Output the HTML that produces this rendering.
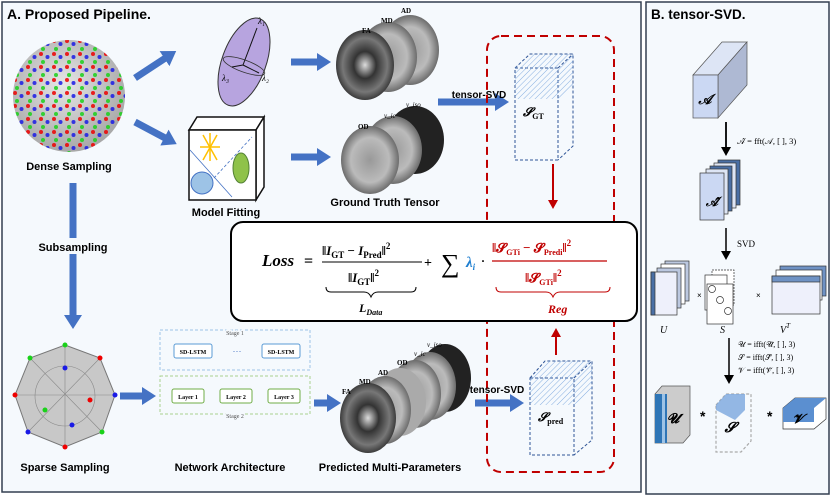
<!DOCTYPE html>
<html><head><meta charset="utf-8"><style>
body{margin:0;background:#fff}
svg{display:block;font-family:"Liberation Sans",sans-serif}
.serif{font-family:"Liberation Serif",serif}
</style></head><body>
<svg width="831" height="501" viewBox="0 0 831 501" xmlns="http://www.w3.org/2000/svg">
<defs>
<marker id="bh" markerWidth="16" markerHeight="18" refX="3" refY="9" orient="auto" markerUnits="userSpaceOnUse"><path d="M0,0 L14,9 L0,18z" fill="#4472c4"/></marker>
<marker id="kh" markerWidth="10" markerHeight="10" refX="3" refY="5" orient="auto" markerUnits="userSpaceOnUse"><path d="M0,0 L9,5 L0,10z" fill="#000"/></marker>
<marker id="rh" markerWidth="10" markerHeight="10" refX="3" refY="5" orient="auto" markerUnits="userSpaceOnUse"><path d="M0,0 L9,5 L0,10z" fill="#c00000"/></marker>
<radialGradient id="sph" cx="0.45" cy="0.4" r="0.6"><stop offset="0" stop-color="#e6e6e6"/><stop offset="1" stop-color="#a8a8a8"/></radialGradient>
<radialGradient id="br" cx="0.5" cy="0.5" r="0.55"><stop offset="0" stop-color="#ddd"/><stop offset="0.35" stop-color="#333"/><stop offset="0.7" stop-color="#777"/><stop offset="1" stop-color="#222"/></radialGradient>
<radialGradient id="br2" cx="0.5" cy="0.5" r="0.55"><stop offset="0" stop-color="#999"/><stop offset="0.6" stop-color="#bbb"/><stop offset="1" stop-color="#555"/></radialGradient>
<pattern id="dots" width="13" height="13" patternUnits="userSpaceOnUse"><circle cx="2" cy="2" r="2" fill="#e00"/><circle cx="8.5" cy="5" r="2" fill="#1a1ae6"/><circle cx="4" cy="10" r="2" fill="#1ad11a"/></pattern>
<pattern id="hatch" width="4" height="4" patternUnits="userSpaceOnUse" patternTransform="rotate(45)"><line x1="0" y1="0" x2="0" y2="4" stroke="#7aa6dd" stroke-width="1"/></pattern>
</defs>
<rect width="831" height="501" fill="#fff"/>
<rect x="2" y="2" width="639" height="490" fill="#f5f9fd" stroke="#333f50" stroke-width="1.5"/>
<rect x="646" y="2" width="183" height="492" fill="#f5f9fd" stroke="#333f50" stroke-width="1.5"/>
<text x="7" y="19" font-size="14" font-weight="bold">A. Proposed Pipeline.</text>
<text x="651" y="19" font-size="13.5" font-weight="bold">B. tensor-SVD.</text>

<!-- dense sphere -->
<circle cx="69" cy="96" r="56" fill="url(#sph)"/>
<circle cx="69" cy="96" r="56" fill="url(#dots)" opacity="0.85"/>
<text x="69" y="170" font-size="11" font-weight="bold" text-anchor="middle">Dense Sampling</text>
<!-- blue arrows -->
<g stroke="#4472c4" stroke-width="7" fill="none" marker-end="url(#bh)">
<line x1="135" y1="78" x2="167" y2="57"/>
<line x1="135" y1="122" x2="167" y2="139"/>
<line x1="291" y1="62" x2="320" y2="62"/>
<line x1="291" y1="157" x2="320" y2="157"/>
<line x1="73" y1="183" x2="73" y2="318"/>
<line x1="120" y1="396" x2="145" y2="396"/>
<line x1="314" y1="403" x2="330" y2="403"/>
<line x1="438" y1="102" x2="498" y2="102"/>
<line x1="475" y1="403" x2="513" y2="403"/>
</g>
<rect x="20" y="238" width="106" height="16" fill="#f5f9fd"/>
<text x="73" y="251" font-size="11" font-weight="bold" text-anchor="middle">Subsampling</text>
<!-- ellipsoid -->
<ellipse cx="244" cy="62" rx="22" ry="46" transform="rotate(20 244 62)" fill="#b7a4df" stroke="#333" stroke-width="1"/>
<ellipse cx="244" cy="66" rx="22" ry="6" transform="rotate(20 244 66)" fill="none" stroke="#333" stroke-width="0.8"/>
<g stroke="#111" stroke-width="1"><line x1="243" y1="65" x2="257" y2="28"/><line x1="243" y1="65" x2="232" y2="67"/><line x1="243" y1="65" x2="259" y2="73"/></g>
<text x="258" y="24" class="serif" font-size="9" font-style="italic">λ₁</text>
<text x="262" y="81" class="serif" font-size="9" font-style="italic">λ₂</text>
<text x="222" y="81" class="serif" font-size="9" font-style="italic">λ₃</text>
<!-- cube model fitting -->
<g stroke="#111" stroke-width="1.5" fill="#fff">
<path d="M189,130 L197,117 L264,117 L256,130z"/>
<path d="M256,130 L264,117 L264,187 L256,200z"/>
<rect x="189" y="130" width="67" height="70"/>
</g>
<line x1="190" y1="150" x2="232" y2="197" stroke="#4472c4" stroke-width="0.8"/>
<line x1="214" y1="178" x2="252" y2="137" stroke="#4472c4" stroke-width="0.8" stroke-dasharray="3,2"/>
<g stroke="#ffc000" stroke-width="1.5"><line x1="203" y1="135" x2="217" y2="160"/><line x1="217" y1="135" x2="203" y2="160"/><line x1="200" y1="147" x2="220" y2="147"/><line x1="210" y1="133" x2="210" y2="161"/></g>
<circle cx="202" cy="183" r="11" fill="#9dc3e6" stroke="#4472c4"/>
<ellipse cx="241" cy="168" rx="8" ry="15" fill="#8fc24a" stroke="#538135"/>
<text x="226" y="216" font-size="11" font-weight="bold" text-anchor="middle">Model Fitting</text>
<!-- GT brains -->
<ellipse cx="410" cy="50" rx="29" ry="35" fill="url(#br2)"/>
<ellipse cx="388" cy="57" rx="29" ry="35" fill="url(#br2)"/>
<ellipse cx="365" cy="65" rx="29" ry="35" fill="url(#br)"/>
<text x="401" y="13" class="serif" font-size="7" font-weight="bold">AD</text>
<text x="381" y="23" class="serif" font-size="7" font-weight="bold">MD</text>
<text x="362" y="33" class="serif" font-size="7" font-weight="bold">FA</text>
<ellipse cx="415" cy="140" rx="29" ry="34" fill="#222"/>
<ellipse cx="393" cy="150" rx="29" ry="34" fill="url(#br2)"/>
<ellipse cx="370" cy="160" rx="29" ry="34" fill="url(#br2)"/>
<text x="406" y="107" class="serif" font-size="7" font-style="italic">v_iso</text>
<text x="384" y="118" class="serif" font-size="7" font-style="italic">v_ic</text>
<text x="358" y="129" class="serif" font-size="7" font-weight="bold">OD</text>
<text x="385" y="206" font-size="11" font-weight="bold" text-anchor="middle">Ground Truth Tensor</text>
<text x="479" y="98" font-size="10" font-weight="bold" text-anchor="middle">tensor-SVD</text>
<!-- red dashed box -->
<rect x="487" y="36" width="127" height="436" rx="14" fill="none" stroke="#c00000" stroke-width="2" stroke-dasharray="8,5"/>
<!-- S_GT cube -->
<g fill="none" stroke="#2f5597" stroke-width="1" stroke-dasharray="3,2">
<rect x="515" y="68" width="43" height="92"/><path d="M515,68 L530,54 L573,54 L573,146 L558,160 M558,68 L573,54"/>
</g>
<path d="M515,68 L530,54 L573,54 L573,85 L558,99 L515,99z" fill="url(#hatch)" opacity="0.9"/>
<text x="523" y="116" class="serif" font-size="12" font-weight="bold" font-style="italic">𝓢<tspan font-size="8" font-style="normal" dy="3">GT</tspan></text>
<line x1="553" y1="164" x2="553" y2="203" stroke="#c00000" stroke-width="2" marker-end="url(#rh)"/>
<line x1="556" y1="355" x2="556" y2="334" stroke="#c00000" stroke-width="2" marker-end="url(#rh)"/>
<!-- Loss box -->
<rect x="231" y="222" width="406" height="99" rx="12" fill="#fff" stroke="#000" stroke-width="2"/>
<g class="serif" font-weight="bold">
<text x="262" y="266" font-size="17" font-style="italic">Loss</text>
<text x="304" y="266" font-size="16">=</text>
<text x="322" y="255" font-size="13">‖<tspan font-style="italic">I</tspan><tspan font-size="9" dy="3">GT</tspan><tspan dy="-3"> − </tspan><tspan font-style="italic">I</tspan><tspan font-size="9" dy="3">Pred</tspan><tspan dy="-3">‖</tspan><tspan font-size="9" dy="-6">2</tspan></text>
<line x1="322" y1="262" x2="422" y2="262" stroke="#000" stroke-width="1"/>
<text x="348" y="282" font-size="13">‖<tspan font-style="italic">I</tspan><tspan font-size="9" dy="3">GT</tspan><tspan dy="-3">‖</tspan><tspan font-size="9" dy="-6">2</tspan></text>
<path d="M326,287 q0,5 5,5 h33 q5,0 7,5 q2,-5 7,-5 h33 q5,0 5,-5" fill="none" stroke="#000" stroke-width="1"/>
<text x="359" y="312" font-size="12" font-style="italic">L<tspan font-size="8" dy="3">Data</tspan></text>
<text x="424" y="267" font-size="14">+</text>
<text x="441" y="272" font-size="26" font-weight="normal">∑</text>
<text x="466" y="267" font-size="15" font-style="italic" fill="#1f7fd0">λ<tspan font-size="9" dy="3">i</tspan></text>
<text x="481" y="265" font-size="12">·</text>
<g fill="#c00000">
<text x="492" y="252" font-size="13">‖𝓢<tspan font-size="8" dy="3">GTi</tspan><tspan dy="-3"> − 𝓢</tspan><tspan font-size="8" dy="3">Predi</tspan><tspan dy="-3">‖</tspan><tspan font-size="9" dy="-6">2</tspan></text>
<text x="525" y="282" font-size="13">‖𝓢<tspan font-size="8" dy="3">GTi</tspan><tspan dy="-3">‖</tspan><tspan font-size="9" dy="-6">2</tspan></text>
<text x="548" y="313" font-size="12" font-style="italic">Reg</text>
</g>
<line x1="492" y1="261" x2="607" y2="261" stroke="#c00000" stroke-width="1.2"/>
<path d="M496,287 q0,5 5,5 h45 q5,0 7,5 q2,-5 7,-5 h45 q5,0 5,-5" fill="none" stroke="#c00000" stroke-width="1"/>
</g>
<!-- sparse sphere -->
<polygon points="65,345 100,358 115,395 102,432 65,447 28,432 15,395 30,358" fill="#c8c8c8" stroke="#777"/>
<g stroke="#888" stroke-width="0.6"><line x1="65" y1="345" x2="65" y2="447"/><line x1="15" y1="395" x2="115" y2="395"/><line x1="30" y1="358" x2="102" y2="432"/><line x1="100" y1="358" x2="28" y2="432"/><circle cx="65" cy="396" r="30" fill="none"/></g>
<g><circle cx="65" cy="345" r="2.5" fill="#1ad11a"/><circle cx="100" cy="358" r="2.5" fill="#e00"/><circle cx="115" cy="395" r="2.5" fill="#1a1ae6"/><circle cx="102" cy="432" r="2.5" fill="#1ad11a"/><circle cx="65" cy="447" r="2.5" fill="#e00"/><circle cx="28" cy="432" r="2.5" fill="#1a1ae6"/><circle cx="15" cy="395" r="2.5" fill="#e00"/><circle cx="30" cy="358" r="2.5" fill="#1ad11a"/><circle cx="65" cy="368" r="2.5" fill="#1a1ae6"/><circle cx="90" cy="400" r="2.5" fill="#e00"/><circle cx="45" cy="410" r="2.5" fill="#1ad11a"/><circle cx="72" cy="425" r="2.5" fill="#1a1ae6"/></g>
<text x="65" y="471" font-size="11" font-weight="bold" text-anchor="middle">Sparse Sampling</text>
<!-- network -->
<rect x="160" y="330" width="150" height="40" fill="none" stroke="#9dc3e6" stroke-dasharray="3,2"/>
<rect x="160" y="376" width="150" height="38" fill="none" stroke="#a9d18e" stroke-dasharray="3,2"/>
<text x="235" y="335" class="serif" font-size="6" text-anchor="middle" fill="#555" style="paint-order:stroke" stroke="#f5f9fd" stroke-width="3">Stage 1</text>
<text x="235" y="418" class="serif" font-size="6" text-anchor="middle" fill="#555" style="paint-order:stroke" stroke="#f5f9fd" stroke-width="3">Stage 2</text>
<rect x="174" y="344" width="38" height="14" rx="2" fill="#fff" stroke="#5b9bd5"/>
<rect x="262" y="344" width="38" height="14" rx="2" fill="#fff" stroke="#5b9bd5"/>
<text x="193" y="354" class="serif" font-size="6" font-weight="bold" text-anchor="middle">SD-LSTM</text>
<text x="281" y="354" class="serif" font-size="6" font-weight="bold" text-anchor="middle">SD-LSTM</text>
<text x="237" y="354" font-size="9" fill="#4472c4" text-anchor="middle">···</text>
<rect x="172" y="389" width="32" height="14" rx="2" fill="#fff" stroke="#70ad47"/>
<rect x="220" y="389" width="32" height="14" rx="2" fill="#fff" stroke="#70ad47"/>
<rect x="268" y="389" width="32" height="14" rx="2" fill="#fff" stroke="#70ad47"/>
<text x="188" y="399" class="serif" font-size="6" font-weight="bold" text-anchor="middle">Layer 1</text>
<text x="236" y="399" class="serif" font-size="6" font-weight="bold" text-anchor="middle">Layer 2</text>
<text x="284" y="399" class="serif" font-size="6" font-weight="bold" text-anchor="middle">Layer 3</text>
<text x="230" y="471" font-size="11" font-weight="bold" text-anchor="middle">Network Architecture</text>
<!-- predicted brains -->
<ellipse cx="445" cy="378" rx="26" ry="34" fill="#222"/>
<ellipse cx="430" cy="386" rx="26" ry="34" fill="url(#br2)"/>
<ellipse cx="415" cy="394" rx="26" ry="34" fill="url(#br2)"/>
<ellipse cx="400" cy="402" rx="26" ry="34" fill="#aaa"/>
<ellipse cx="385" cy="410" rx="26" ry="34" fill="url(#br2)"/>
<ellipse cx="368" cy="418" rx="28" ry="35" fill="url(#br)"/>
<text x="427" y="347" class="serif" font-size="7" font-style="italic">v_iso</text>
<text x="414" y="356" class="serif" font-size="7" font-style="italic">v_ic</text>
<text x="397" y="365" class="serif" font-size="7" font-weight="bold">OD</text>
<text x="378" y="375" class="serif" font-size="7" font-weight="bold">AD</text>
<text x="359" y="384" class="serif" font-size="7" font-weight="bold">MD</text>
<text x="342" y="394" class="serif" font-size="7" font-weight="bold">FA</text>
<text x="390" y="471" font-size="11" font-weight="bold" text-anchor="middle">Predicted Multi-Parameters</text>
<text x="497" y="393" font-size="10" font-weight="bold" text-anchor="middle">tensor-SVD</text>
<!-- S_pred cube -->
<g fill="none" stroke="#2f5597" stroke-width="1" stroke-dasharray="3,2">
<rect x="530" y="378" width="44" height="77"/><path d="M530,378 L545,361 L592,361 L592,440 L574,455 M574,378 L592,361"/>
</g>
<path d="M530,378 L545,361 L592,361 L592,390 L574,405 L530,405z" fill="url(#hatch)" opacity="0.9"/>
<text x="538" y="421" class="serif" font-size="12" font-weight="bold" font-style="italic">𝓢<tspan font-size="8" font-style="normal" dy="3">pred</tspan></text>

<!-- Panel B -->
<path d="M693,75 L722,42 L747,42 L718,75z" fill="#dde5f5" stroke="#555" stroke-width="0.7"/>
<path d="M718,75 L747,42 L747,85 L718,118z" fill="#aeb9d3" stroke="#555" stroke-width="0.7"/>
<rect x="693" y="75" width="25" height="43" fill="#cbd8f3" stroke="#555" stroke-width="0.7"/>
<text x="705" y="104" class="serif" font-size="14" font-weight="bold" font-style="italic" text-anchor="middle">𝒜</text>
<line x1="726" y1="122" x2="726" y2="150" stroke="#000" stroke-width="1.8" marker-end="url(#kh)"/>
<text x="737" y="144" class="serif" font-size="8.5">𝒜̂ = fft(𝒜, [ ], 3)</text>
<g stroke="#333" stroke-width="0.7">
<rect x="718" y="160" width="22" height="45" fill="#4a6fa5"/>
<rect x="714" y="163" width="22" height="45" fill="#dde5f5"/>
<rect x="710" y="166" width="22" height="45" fill="#4a6fa5"/>
<rect x="706" y="169" width="22" height="45" fill="#dde5f5"/>
<rect x="700" y="173" width="24" height="47" fill="#cbd8f3"/>
</g>
<text x="712" y="206" class="serif" font-size="13" font-weight="bold" font-style="italic" text-anchor="middle">𝒜̂</text>
<line x1="726" y1="228" x2="726" y2="254" stroke="#000" stroke-width="1.5" marker-end="url(#kh)"/>
<text x="737" y="247" class="serif" font-size="9">SVD</text>
<g stroke="#333" stroke-width="0.7">
<rect x="665" y="261" width="24" height="40" fill="#bcc8e0"/><rect x="661" y="264" width="24" height="40" fill="#fff"/><rect x="657" y="268" width="24" height="40" fill="#bcc8e0"/>
<rect x="651" y="272" width="26" height="43" fill="#eef0fb"/>
<rect x="651" y="272" width="4" height="43" fill="#4a6fa5"/>
<rect x="712" y="270" width="22" height="35" fill="#fff" stroke-dasharray="2,1"/>
<rect x="705" y="275" width="22" height="35" fill="#fff"/>
<rect x="707" y="284" width="26" height="40" fill="#fff"/>
<rect x="780" y="266" width="46" height="30" fill="#6f92c4"/><rect x="776" y="270" width="46" height="30" fill="#fff"/>
<rect x="772" y="276" width="48" height="38" fill="#eef0fb"/>
<rect x="772" y="276" width="48" height="6" fill="#6f92c4"/>
</g>
<circle cx="712" cy="289" r="3.5" fill="#fff" stroke="#333" stroke-width="0.7"/>
<circle cx="720" cy="300" r="3.5" fill="#fff" stroke="#333" stroke-width="0.7"/>
<circle cx="728" cy="311" r="3.5" fill="#fff" stroke="#333" stroke-width="0.7"/>
<text x="697" y="298" font-size="8">×</text>
<text x="756" y="298" font-size="8">×</text>
<text x="660" y="333" class="serif" font-size="10" font-style="italic">U</text>
<text x="720" y="333" class="serif" font-size="10" font-style="italic">S</text>
<text x="780" y="333" class="serif" font-size="10" font-style="italic">V<tspan font-size="7" dy="-5">T</tspan></text>
<line x1="729" y1="338" x2="729" y2="378" stroke="#000" stroke-width="1.5" marker-end="url(#kh)"/>
<text x="738" y="347" class="serif" font-size="8">𝒰 =  ifft(𝒰̂, [ ], 3)</text>
<text x="738" y="360" class="serif" font-size="8">𝒮 =  ifft(𝒮̂, [ ], 3)</text>
<text x="738" y="373" class="serif" font-size="8">𝒱 =  ifft(𝒱̂, [ ], 3)</text>
<path d="M655,394 L662,386 L690,386 L690,435 L683,443 L655,443z" fill="#ccc" stroke="#555" stroke-width="0.7"/>
<rect x="655" y="394" width="12" height="49" fill="#2e75b6"/>
<rect x="662" y="394" width="3" height="49" fill="#9dc3e6"/>
<text x="673" y="423" class="serif" font-size="14" font-weight="bold" font-style="italic" text-anchor="middle">𝓤</text>
<text x="700" y="421" font-size="14" font-weight="bold">*</text>
<path d="M716,405 L726,394 L751,394 L751,441 L741,452 L716,452z" fill="none" stroke="#aaa" stroke-width="1.2" stroke-dasharray="3,2"/>
<path d="M716,405 L726,394 L745,394 L745,410 L735,420 L716,410z" fill="#7aa6dd" opacity="0.8"/>
<text x="730" y="432" class="serif" font-size="14" font-weight="bold" font-style="italic" text-anchor="middle">𝓢</text>
<text x="767" y="421" font-size="14" font-weight="bold">*</text>
<path d="M783,408 L795,398 L826,398 L826,419 L814,429 L783,429z" fill="#fff" stroke="#333" stroke-width="0.7"/>
<path d="M783,408 L795,398 L826,398 L814,408z" fill="#5b8fd0"/>
<rect x="783" y="408" width="31" height="14" fill="#5b8fd0"/>
<text x="798" y="423" class="serif" font-size="13" font-weight="bold" font-style="italic" text-anchor="middle">𝓥</text>
</svg>
</body></html>
